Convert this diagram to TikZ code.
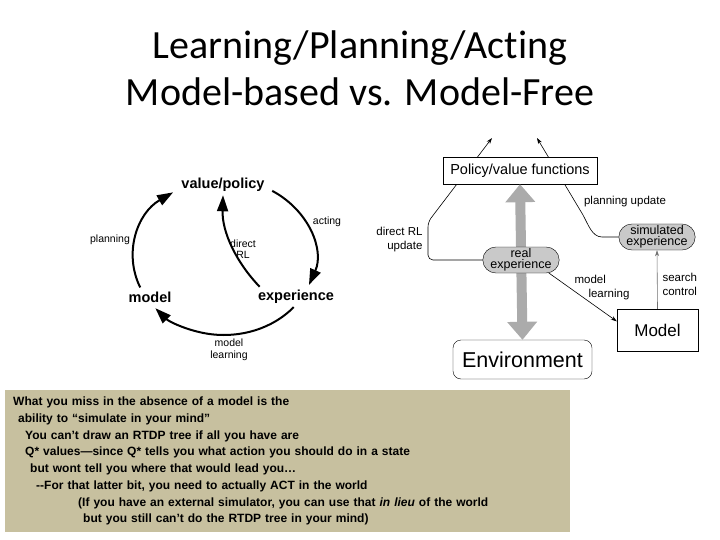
\documentclass[tikz,border=0pt]{standalone}
\usepackage{fontspec}
\setmainfont{Liberation Sans}
\newfontfamily\titlefont[Ligatures={NoCommon,NoDiscretionary}]{Carlito}
\usetikzlibrary{arrows.meta,calc,positioning,shapes.misc}
\definecolor{notetan}{HTML}{C7C09F}
\definecolor{shaftgray}{HTML}{ABABAB}
\definecolor{pillgray}{HTML}{C9C9C9}
\definecolor{searchgray}{HTML}{707070}

\begin{document}
\begin{tikzpicture}[x=1pt,y=-1pt,
  cycword/.style={font=\bfseries\fontsize{14.5}{16}\selectfont},
  cyclabel/.style={font=\fontsize{10.5}{11.5}\selectfont,align=center},
  cycarrow/.style={line width=2pt,-{Triangle[length=16pt,width=11pt]}},
  flowlabel/.style={font=\fontsize{11.5}{14}\selectfont},
  pill/.style={rounded rectangle,draw,fill=pillgray,minimum height=26pt,inner sep=1pt,align=center,font=\fontsize{12.5}{11}\selectfont},
  thinarrow/.style={line width=0.6pt,-{Stealth[length=6pt,width=4pt]}}]
\useasboundingbox (0,0) rectangle (720,540);

\node[font=\titlefont\fontsize{40}{47}\selectfont,align=center] (title) at (360,68) {Learning/Planning/Acting\\Model-based vs. Model-Free};

\node[cycword] (vp) at (223,185) {value/policy};
\node[cycword] (ex) at (296,297) {experience};
\node[cycword] (md) at (150,297) {model};
\coordinate (cc) at (224,257);
\coordinate (actA) at ($(cc)+(58:91pt and 78pt)$);
\coordinate (mlA) at ($(cc)+(-40:91pt and 78pt)$);
\coordinate (plA) at ($(cc)+(203:91pt and 78pt)$);
\draw[cycarrow] (actA) arc[start angle=58,end angle=-21,x radius=91pt,y radius=78pt];
\draw[cycarrow] (mlA) arc[start angle=-40,end angle=-139,x radius=91pt,y radius=78pt];
\draw[cycarrow] (plA) arc[start angle=203,end angle=124,x radius=91pt,y radius=78pt];
\draw[cycarrow] ($(ex.north west)+(5,0)$) .. controls (236,262) and (222,232) .. (vp.south);
\node[cyclabel] (plab) at (110,240) {planning};
\node[cyclabel] (alab) at (327,222) {acting};
\node[cyclabel] (dlab) at (243,249) {direct\\RL};
\node[cyclabel] (mlab) at (229,350) {model\\learning};

\coordinate (rltip) at (492,138);
\coordinate (putip) at (537,138);
\node[pill,minimum width=74pt] (sx) at (657,237) {simulated\\experience};
\draw[thinarrow,rounded corners=5pt] (521,260) ++(-36,0) -- (428,260) -- (428,222) -- (rltip);
\draw[thinarrow] (sx.west) -- (602,237) .. controls (592,237) and (588,224) .. (583,215) -- (putip);
\node[draw,fill=white,minimum width=154pt,minimum height=27pt,font=\fontsize{14.5}{15}\selectfont] (pv) at (520,170.5) {Policy/value functions};
\node[draw,fill=white,rounded corners=8pt,minimum width=139pt,minimum height=39pt,font=\fontsize{21.5}{24}\selectfont] (env) at (522.5,359.5) {Environment};
\draw[shaftgray,line width=10pt,{Triangle[length=18pt,width=29pt]}-{Triangle[length=18pt,width=29pt]}] (pv.south) -- (env.north);
\node[pill,minimum width=72pt] (rx) at (521,260) {real\\experience};
\node[draw,fill=white,minimum width=81pt,minimum height=42pt,font=\fontsize{17}{19}\selectfont] (mb) at (657.5,330) {Model};
\draw[thinarrow] (rx.-25) -- (mb.168);
\draw[thinarrow,searchgray] (mb.north) -- (sx.south);
\node[flowlabel,align=right,anchor=east] (rllab) at (426,240) {direct RL\\update};
\node[flowlabel] (pulab) at (625,202) {planning update};
\node[flowlabel,align=left,anchor=west] (mllab) at (571,288) {model\\\hspace*{14pt}learning};
\node[flowlabel,align=left,anchor=west] (sclab) at (659,284) {search\\control};

\node[fill=notetan,anchor=north west,inner xsep=8pt,inner ysep=0pt,text width=549pt,minimum height=142pt,align=left,font=\bfseries\fontsize{12}{16.7}\selectfont] (note) at (5,390) {What you miss in the absence of a model is the\\
\hspace*{5pt}ability to “simulate in your mind”\\
\hspace*{12pt}You can’t draw an RTDP tree if all you have are\\
\hspace*{12pt}Q* values—since Q* tells you what action you should do in a state\\
\hspace*{17pt}but wont tell you where that would lead you…\\
\hspace*{23pt}-{}-For that latter bit, you need to actually ACT in the world\\
\hspace*{65pt}(If you have an external simulator, you can use that \textit{in lieu} of the world\\
\hspace*{70pt}but you still can’t do the RTDP tree in your mind)};
\end{tikzpicture}
\end{document}
